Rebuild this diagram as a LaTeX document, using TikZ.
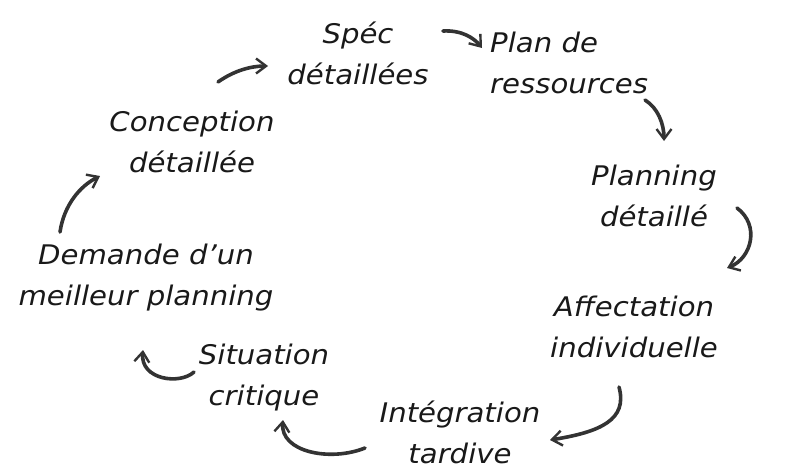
\documentclass[tikz,border=0pt]{standalone}
\usepackage{fontspec}
\setmainfont{DejaVu Sans}
\usetikzlibrary{arrows.meta}
\begin{document}
\begin{tikzpicture}[x=1pt,y=-1pt,
  lbl/.style={font=\fontsize{27}{41}\selectfont\itshape\addfontfeatures{FakeStretch=1.08}, align=center, inner sep=0pt, text=black!90},
  flow/.style={line width=3.6pt, draw=black!80, line cap=round, -{Straight Barb[length=10pt,width=15pt,line width=2.4pt]}}]
\useasboundingbox (0,0) rectangle (800,474);
\node[lbl] (spec) at (358,53) {Spéc\\détaillées};
\node[lbl, align=left, anchor=west] (plan) at (490,63) {Plan de\\ressources};
\node[lbl] (planning) at (654,196) {Planning\\détaillé};
\node[lbl] (affect) at (634,327) {Affectation\\individuelle};
\node[lbl] (integ) at (460,432) {Intégration\\tardive};
\node[lbl] (situ) at (264,378) {Situation\\critique};
\node[lbl] (dem) at (146,278) {Demande d'un\\meilleur planning};
\node[lbl] (conc) at (192,142) {Conception\\détaillée};
\coordinate (a1s) at (218,82); \coordinate (a1e) at (268,66);
\coordinate (a2s) at (443,31); \coordinate (a2e) at (482,48);
\coordinate (a3s) at (645,100); \coordinate (a3e) at (664,141);
\coordinate (a4s) at (737,208); \coordinate (a4e) at (727,268);
\coordinate (a5s) at (619,387); \coordinate (a5e) at (550,440);
\coordinate (a6s) at (365,448); \coordinate (a6e) at (283,420);
\coordinate (a7s) at (194,372); \coordinate (a7e) at (143,350);
\coordinate (a8s) at (60,232); \coordinate (a8e) at (100,176);
\draw[flow] (a1s) .. controls (235,70) and (252,66) .. (a1e);
\draw[flow] (a2s) .. controls (462,30) and (474,38) .. (a2e);
\draw[flow] (a3s) .. controls (658,108) and (664,124) .. (a3e);
\draw[flow] (a4s) .. controls (760,225) and (752,258) .. (a4e);
\draw[flow] (a5s) .. controls (628,420) and (600,432) .. (a5e);
\draw[flow] (a6s) .. controls (330,462) and (280,452) .. (a6e);
\draw[flow] (a7s) .. controls (180,385) and (140,380) .. (a7e);
\draw[flow] (a8s) .. controls (64,205) and (80,186) .. (a8e);
\end{tikzpicture}
\end{document}
